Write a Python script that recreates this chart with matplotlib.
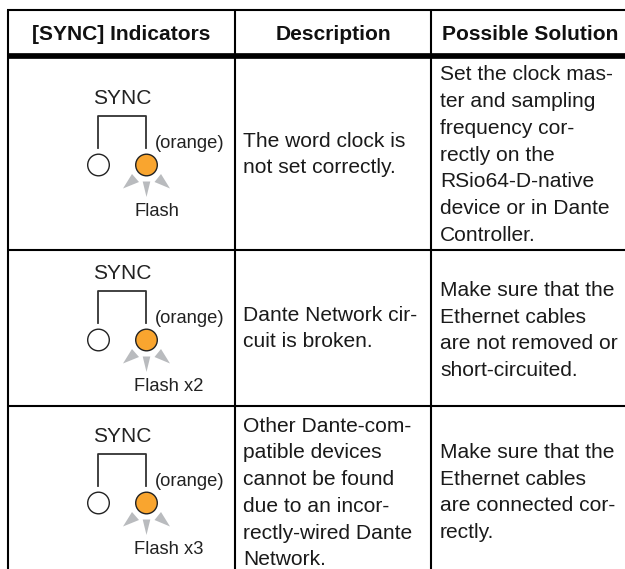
import matplotlib
matplotlib.use('Agg')
import matplotlib.pyplot as plt
from matplotlib.patches import Circle, Polygon

plt.rcParams['font.family'] = ['Liberation Sans', 'DejaVu Sans']

# table text
headers = ['[SYNC] Indicators', 'Description', 'Possible Solution']
flash_labels = ['Flash', 'Flash x2', 'Flash x3']
descriptions = [
    ['The word clock is', 'not set correctly.'],
    ['Dante Network cir-', 'cuit is broken.'],
    ['Other Dante-com-', 'patible devices', 'cannot be found', 'due to an incor-', 'rectly-wired Dante', 'Network.'],
]
solutions = [
    ['Set the clock mas-', 'ter and sampling', 'frequency cor-', 'rectly on the', 'RSio64-D-native', 'device or in Dante', 'Controller.'],
    ['Make sure that the', 'Ethernet cables', 'are not removed or', 'short-circuited.'],
    ['Make sure that the', 'Ethernet cables', 'are connected cor-', 'rectly.'],
]

# grid positions in pixels
col_x = [8, 235, 431]
row_y = [10, 56, 250, 406]
desc_mid = [160, 334, 498.5]
sol_mid = [160.5, 336, 498]
circle_y = [165, 340, 503]

fig = plt.figure(figsize=(6.25, 5.69), dpi=100)
ax = fig.add_axes([0, 0, 1, 1])
ax.set_xlim(0, 625)
ax.set_ylim(569, 0)
ax.axis('off')

# grid lines, the table runs off the right and bottom of the picture
for x in col_x:
    ax.plot([x, x], [row_y[0], 569], color='black', lw=1.5, solid_capstyle='butt')
for i, y in enumerate(row_y):
    ax.plot([col_x[0] - 1, 625], [y, y], color='black', lw=4.1 if i == 1 else 1.5, solid_capstyle='butt')

# header
head_x = [121.5, 333, 530]
for x, h in zip(head_x, headers):
    ax.text(x, 39.5, h, ha='center', va='baseline', fontsize=15.1, fontweight='bold', color='#111111')


def draw_indicator(y0, label):
    # y0 is the centre of the circles
    ax.text(122, y0 - 61.5, 'SYNC', ha='center', va='baseline', fontsize=15.1, color='#222222')
    ax.plot([98, 98, 146, 146], [y0 - 17, y0 - 49.5, y0 - 49.5, y0 - 17], color='#333333', lw=1.3, solid_joinstyle='round')
    ax.add_patch(Circle((98.5, y0), 10.8, fc='white', ec='#222222', lw=1))
    ax.add_patch(Circle((146.5, y0), 10.8, fc='#f9a52f', ec='#222222', lw=1))
    ax.add_patch(Polygon([[146.5, y0 + 32], [142.7, y0 + 16.5], [150.3, y0 + 16.5]], fc='#b9bbbe', ec='none'))
    ax.add_patch(Polygon([[123, y0 + 23.5], [132, y0 + 9], [139, y0 + 17]], fc='#b9bbbe', ec='none'))
    ax.add_patch(Polygon([[170, y0 + 23.5], [161, y0 + 9], [154.5, y0 + 17]], fc='#b9bbbe', ec='none'))
    ax.text(189.5, y0 - 17, '(orange)', ha='center', va='baseline', fontsize=13.2, color='#222222')
    ax.text(134, y0 + 51, label, ha='left', va='baseline', fontsize=13.2, color='#222222')


for y0, label in zip(circle_y, flash_labels):
    draw_indicator(y0, label)


def draw_lines(x, y_mid, lines):
    step = 26.67
    top = y_mid - step * (len(lines) - 1) / 2
    for k, line in enumerate(lines):
        ax.text(x, top + k * step, line, ha='left', va='baseline', fontsize=15.1, color='#1a1a1a')


for r in range(3):
    draw_lines(243, desc_mid[r], descriptions[r])
    draw_lines(440, sol_mid[r], solutions[r])

fig.savefig('out.png', dpi=100)
